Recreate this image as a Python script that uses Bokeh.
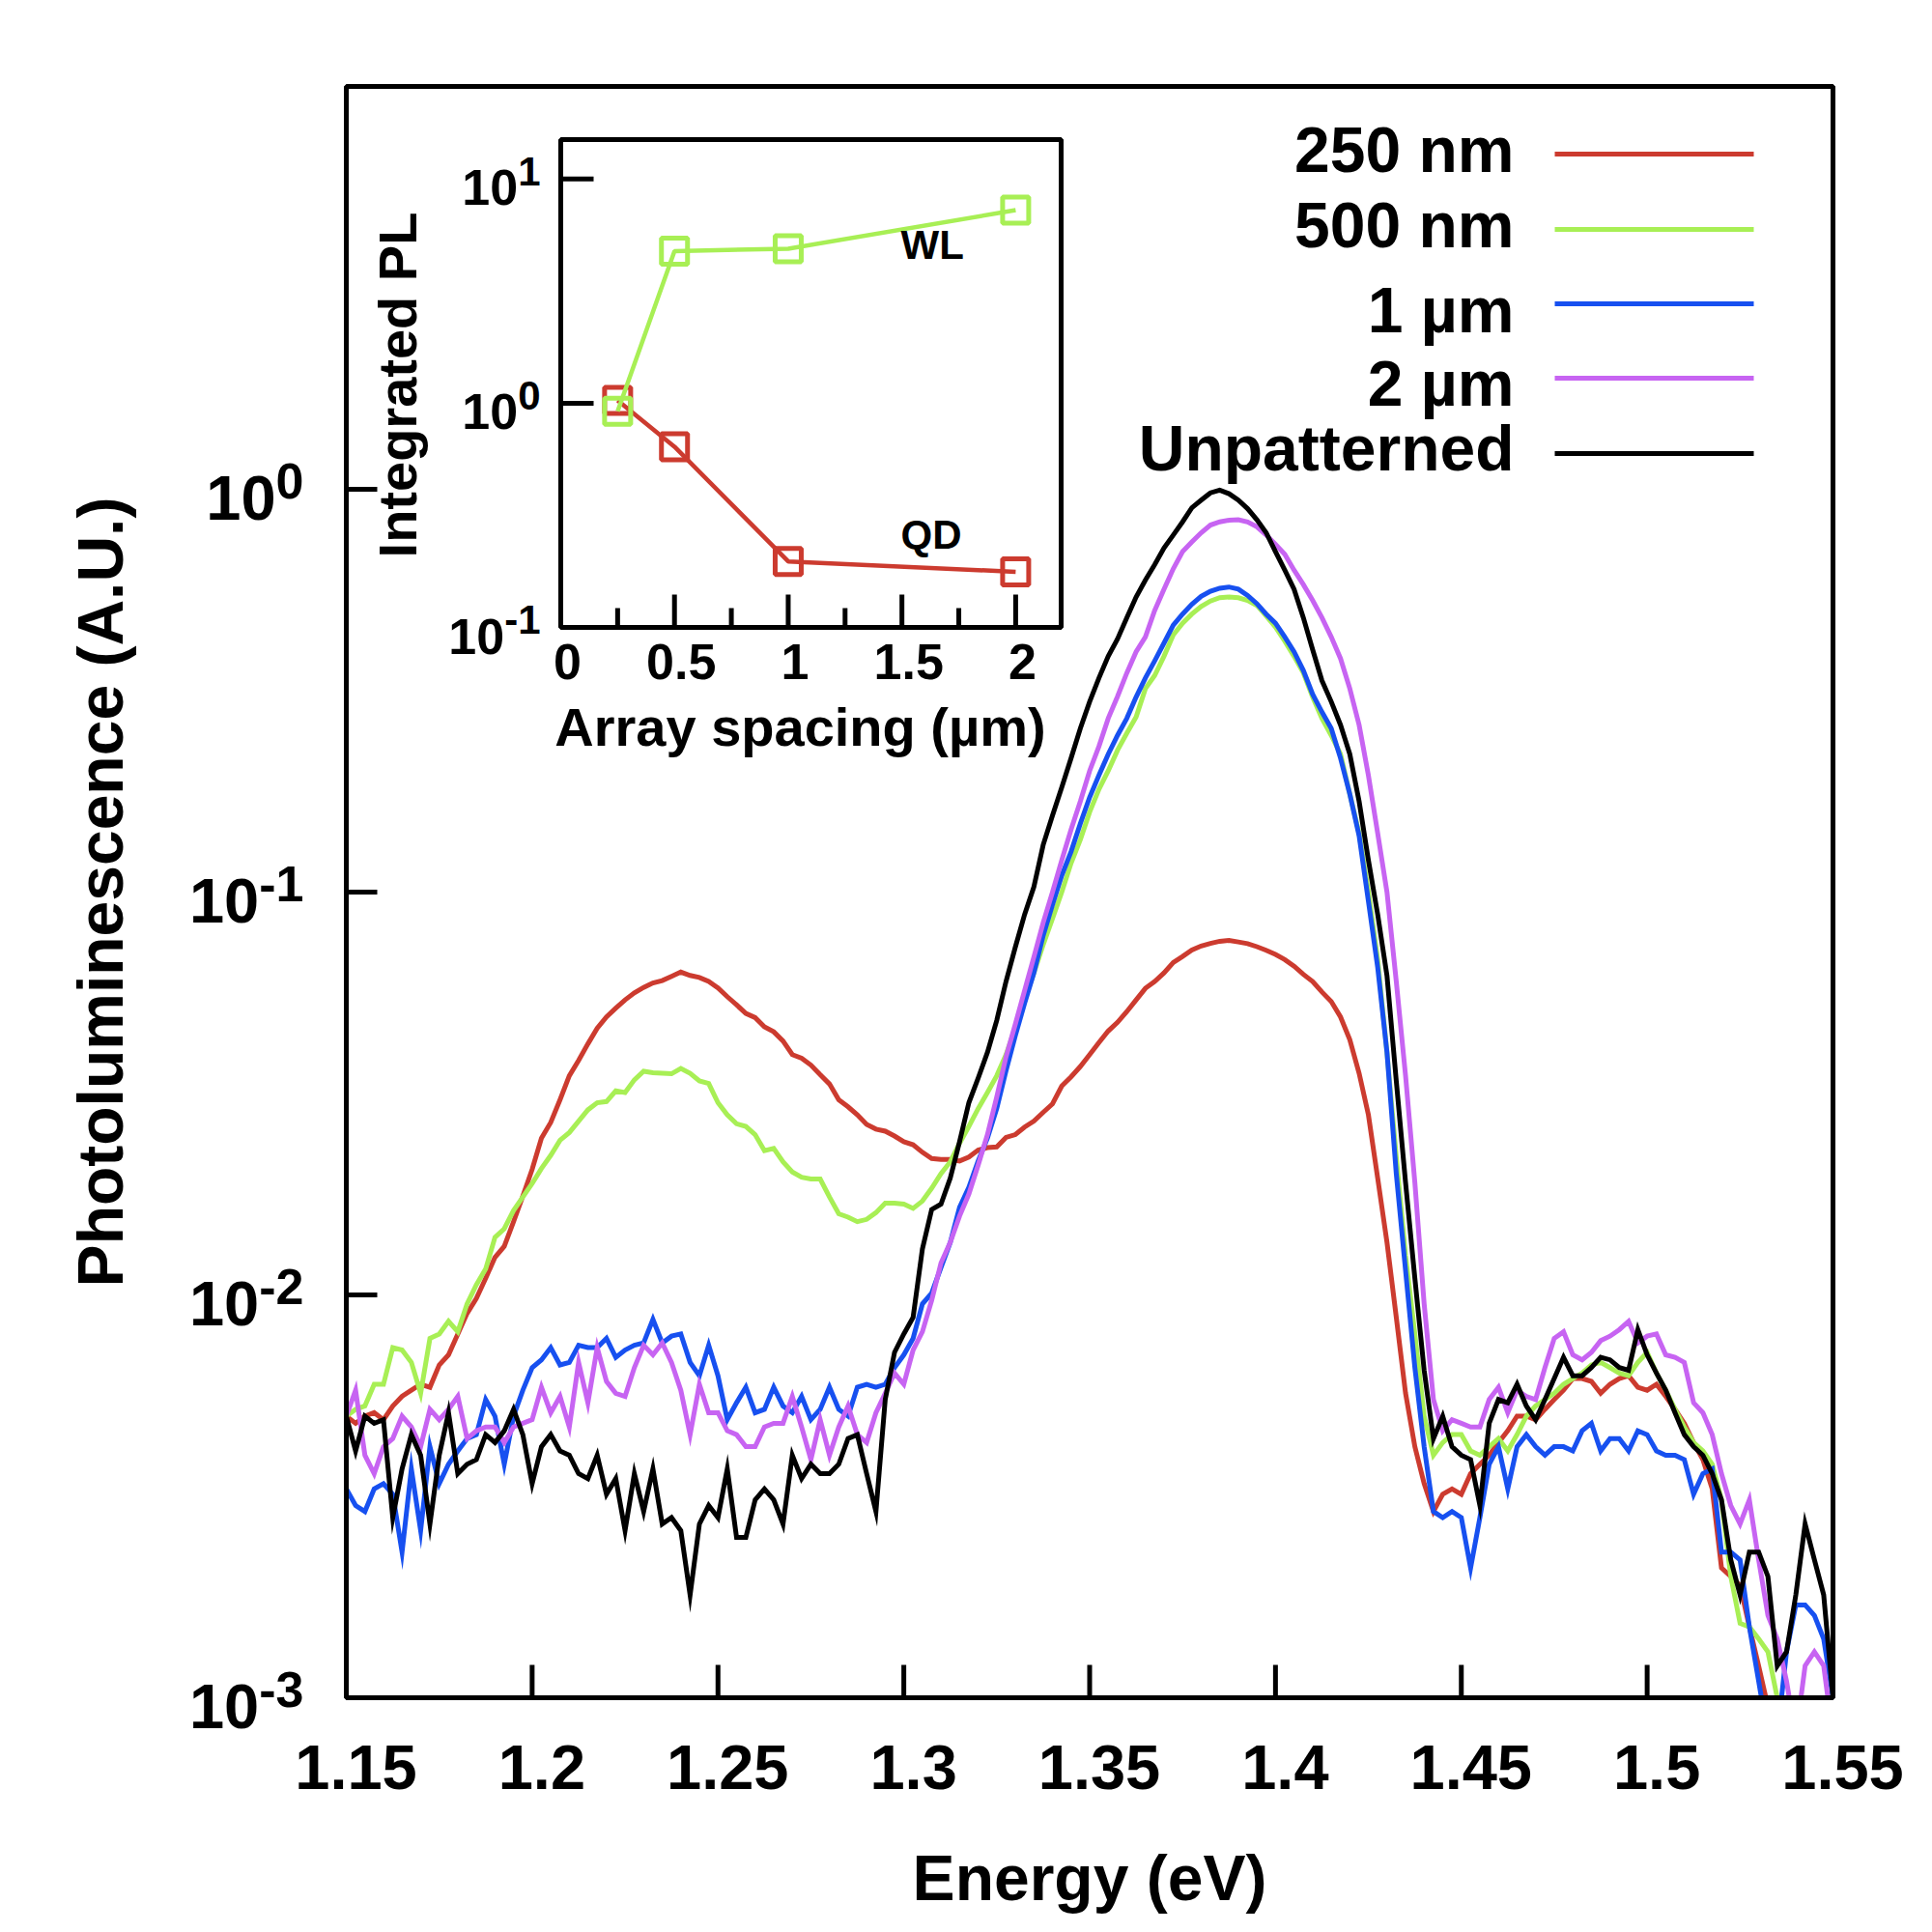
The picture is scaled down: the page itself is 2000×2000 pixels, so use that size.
import math
from bokeh.plotting import figure
from bokeh.models import Range1d, LinearScale, LogScale, Label
from bokeh.embed import file_html
from bokeh.resources import INLINE

# ---------------- data ----------------
energy_eV = [
    1.1500, 1.1525, 1.1550, 1.1575, 1.1600, 1.1625, 1.1650, 1.1675, 1.1700, 1.1725,
    1.1750, 1.1775, 1.1800, 1.1825, 1.1850, 1.1875, 1.1900, 1.1925, 1.1950, 1.1975,
    1.2000, 1.2025, 1.2050, 1.2075, 1.2100, 1.2125, 1.2150, 1.2175, 1.2200, 1.2225,
    1.2250, 1.2275, 1.2300, 1.2325, 1.2350, 1.2375, 1.2400, 1.2425, 1.2450, 1.2475,
    1.2500, 1.2525, 1.2550, 1.2575, 1.2600, 1.2625, 1.2650, 1.2675, 1.2700, 1.2725,
    1.2750, 1.2775, 1.2800, 1.2825, 1.2850, 1.2875, 1.2900, 1.2925, 1.2950, 1.2975,
    1.3000, 1.3025, 1.3050, 1.3075, 1.3100, 1.3125, 1.3150, 1.3175, 1.3200, 1.3225,
    1.3250, 1.3275, 1.3300, 1.3325, 1.3350, 1.3375, 1.3400, 1.3425, 1.3450, 1.3475,
    1.3500, 1.3525, 1.3550, 1.3575, 1.3600, 1.3625, 1.3650, 1.3675, 1.3700, 1.3725,
    1.3750, 1.3775, 1.3800, 1.3825, 1.3850, 1.3875, 1.3900, 1.3925, 1.3950, 1.3975,
    1.4000, 1.4025, 1.4050, 1.4075, 1.4100, 1.4125, 1.4150, 1.4175, 1.4200, 1.4225,
    1.4250, 1.4275, 1.4300, 1.4325, 1.4350, 1.4375, 1.4400, 1.4425, 1.4450, 1.4475,
    1.4500, 1.4525, 1.4550, 1.4575, 1.4600, 1.4625, 1.4650, 1.4675, 1.4700, 1.4725,
    1.4750, 1.4775, 1.4800, 1.4825, 1.4850, 1.4875, 1.4900, 1.4925, 1.4950, 1.4975,
    1.5000, 1.5025, 1.5050, 1.5075, 1.5100, 1.5125, 1.5150, 1.5175, 1.5200, 1.5225,
    1.5250, 1.5275, 1.5300, 1.5325, 1.5350, 1.5375, 1.5400, 1.5425, 1.5450, 1.5475,
    1.5500,
]

pl_250nm = [
    .0050, .0048, .0050, .0051, .0049, .0053, .0056, .0058, .0060, .0059,
    .0067, .0071, .0080, .0090, .0098, .0110, .0124, .0132, .0152, .0176,
    .0205, .0245, .0268, .0305, .0350, .0382, .0420, .0459, .0490, .0515,
    .0540, .0562, .0580, .0595, .0603, .0618, .0633, .0621, .0614, .0600,
    .0578, .0550, .0525, .0500, .0488, .0463, .0450, .0427, .0395, .0387,
    .0372, .0352, .0334, .0305, .0293, .0280, .0265, .0258, .0255, .0248,
    .0240, .0236, .0226, .0218, .0217, .0217, .0215, .0220, .0229, .0232,
    .0233, .0246, .0250, .0261, .0270, .0284, .0298, .0330, .0348, .0369,
    .0395, .0423, .0452, .0475, .0505, .0540, .0577, .0600, .0630, .0669,
    .0692, .0718, .0735, .0746, .0755, .0759, .0752, .0745, .0732, .0717,
    .0700, .0680, .0655, .0625, .0600, .0565, .0535, .0490, .0430, .0355,
    .0280, .0195, .0135, .0088, .0057, .0042, .0034, .0029, .0032, .0033,
    .0032, .0036, .0038, .0040, .0043, .0046, .0050, .0050, .0049, .0052,
    .0055, .0058, .0062, .0062, .0061, .0057, .0060, .0062, .0063, .0059,
    .0058, .0060, .0056, .0052, .0048, .0043, .0039, .0033, .0021, .0020,
    .0019, .0015, .0012, .00095, .0008, .0007, .0007, .0007, .0007, .0007,
    .0007,
]

pl_500nm = [
    .0050, .0052, .0053, .0060, .0060, .0074, .0073, .0068, .0057, .0078,
    .0080, .0086, .0081, .0095, .0106, .0116, .0139, .0146, .0162, .0175,
    .0189, .0206, .0222, .0242, .0253, .0270, .0288, .0300, .0302, .0321,
    .0318, .0342, .0359, .0356, .0355, .0354, .0365, .0355, .0340, .0335,
    .0300, .0280, .0266, .0262, .0250, .0228, .0231, .0214, .0202, .0196,
    .0194, .0194, .0175, .0159, .0156, .0152, .0154, .0160, .0169, .0169,
    .0168, .0164, .0171, .0184, .0200, .0214, .0238, .0262, .0290, .0318,
    .0350, .0395, .0460, .0540, .0630, .0740, .0860, .1000, .1180, .1350,
    .1580, .1800, .2000, .2250, .2480, .2720, .3200, .3450, .3850, .4350,
    .4650, .4900, .5120, .5280, .5380, .5400, .5380, .5300, .5150, .4850,
    .4550, .4200, .3850, .3500, .3050, .2700, .2450, .2200, .1750, .1400,
    .1000, .0680, .0400, .0220, .0125, .0080, .0050, .0040, .0043, .0045,
    .0045, .0041, .0040, .0042, .0044, .0041, .0045, .0050, .0053, .0055,
    .0057, .0060, .0062, .0064, .0067, .0068, .0066, .0064, .0063, .0068,
    .0072, .0064, .0058, .0052, .0047, .0043, .0041, .0038, .0031, .0020,
    .00153, .0015, .0014, .0013, .0010, .0008, .0007, .0007, .0007, .0007,
    .0007,
]

pl_1um = [
    .0033, .0030, .0029, .0033, .0034, .0032, .0023, .0037, .0026, .0042,
    .0034, .0038, .0041, .0044, .0045, .0055, .0050, .0038, .0050, .0058,
    .0066, .0069, .0074, .0067, .0068, .0075, .0074, .0074, .0078, .0070,
    .0073, .0075, .0076, .0087, .0076, .0079, .0080, .0068, .0063, .0075,
    .0063, .0049, .0054, .0059, .0051, .0052, .0059, .0053, .0051, .0056,
    .0049, .0052, .0059, .0052, .0050, .0059, .0060, .0059, .0060, .0066,
    .0071, .0078, .0095, .0101, .0117, .0135, .0165, .0185, .0215, .0245,
    .0290, .0360, .0440, .0530, .0630, .0780, .0930, .1100, .1260, .1480,
    .1720, .1950, .2200, .2450, .2700, .3050, .3400, .3750, .4150, .4600,
    .4900, .5180, .5420, .5580, .5680, .5720, .5650, .5450, .5200, .4900,
    .4650, .4300, .3950, .3550, .3100, .2800, .2550, .2150, .1750, .1380,
    .0950, .0650, .0400, .0200, .0115, .0066, .0042, .0029, .0028, .0029,
    .0028, .0021, .0028, .0038, .0042, .0033, .0042, .0045, .0042, .0040,
    .0042, .0042, .0041, .0046, .0048, .0041, .0044, .0044, .0041, .0046,
    .0045, .0041, .0040, .0040, .0039, .0032, .0036, .0037, .0023, .0023,
    .0022, .0015, .0011, .0008, .0008, .0013, .0017, .0017, .0016, .0014,
    .0010,
]

pl_2um = [
    .0050, .0058, .0040, .0036, .0042, .0044, .0050, .0047, .0042, .0052,
    .0049, .0052, .0056, .0044, .0046, .0047, .0047, .0043, .0047, .0048,
    .0049, .0059, .0051, .0056, .0047, .0068, .0054, .0074, .0061, .0057,
    .0056, .0066, .0075, .0071, .0076, .0068, .0058, .0045, .0060, .0051,
    .0051, .0046, .0045, .0042, .0042, .0047, .0048, .0048, .0056, .0047,
    .0039, .0049, .0040, .0047, .0053, .0045, .0043, .0051, .0057, .0064,
    .0060, .0073, .0081, .0097, .0120, .0135, .0157, .0178, .0210, .0250,
    .0310, .0390, .0470, .0570, .0690, .0840, .1000, .1200, .1430, .1680,
    .2000, .2300, .2700, .3060, .3500, .3950, .4300, .5000, .5650, .6350,
    .7000, .7400, .7800, .8150, .8300, .8380, .8400, .8300, .8070, .7700,
    .7300, .6900, .6300, .5800, .5300, .4800, .4300, .3800, .3200, .2600,
    .1950, .1400, .1000, .0600, .0350, .0190, .0095, .0055, .0046, .0049,
    .0048, .0047, .0047, .0055, .0059, .0051, .0058, .0056, .0055, .0066,
    .0078, .0081, .0071, .0069, .0072, .0077, .0079, .0082, .0086, .0076,
    .0079, .0080, .0071, .0070, .0068, .0054, .0051, .0045, .0036, .0030,
    .0027, .0031, .0022, .0016, .0014, .0011, .0008, .0012, .0013, .0012,
    .0008,
]

pl_unpatterned = [
    .0050, .0041, .0050, .0048, .0049, .0028, .0037, .0045, .0040, .0027,
    .0040, .0051, .0036, .0038, .0039, .0045, .0043, .0046, .0052, .0045,
    .0034, .0042, .0045, .0041, .0040, .0036, .0035, .0040, .0032, .0035,
    .0026, .0036, .0029, .0037, .0027, .0028, .0026, .0018, .0027, .0030,
    .0028, .0037, .0025, .0025, .0031, .0033, .0031, .0027, .0040, .0035,
    .0038, .0036, .0036, .0038, .0044, .0045, .0036, .0029, .0055, .0072,
    .0080, .0088, .0130, .0163, .0168, .0195, .0240, .0300, .0345, .0400,
    .0480, .0600, .0730, .0880, .1030, .1310, .1550, .1820, .2150, .2550,
    .2970, .3400, .3850, .4250, .4800, .5400, .5950, .6500, .7150, .7700,
    .8300, .9000, .9400, .9800, .9950, .9750, .9400, .8950, .8400, .7800,
    .7000, .6300, .5650, .4800, .4000, .3350, .2970, .2600, .2200, .1680,
    .1200, .0880, .0620, .0340, .0190, .0110, .0065, .0044, .0050, .0042,
    .0040, .0039, .0030, .0048, .0055, .0054, .0060, .0053, .0049, .0055,
    .0062, .0070, .0063, .0063, .0066, .0070, .0069, .0066, .0065, .0082,
    .0071, .0064, .0058, .0051, .0045, .0042, .0040, .0036, .0031, .0022,
    .0018, .0023, .0023, .0020, .0012, .0013, .0018, .0027, .0022, .0018,
    .0010,
]

series_names = ["250 nm", "500 nm", "1 µm", "2 µm", "Unpatterned"]
series_values = [pl_250nm, pl_500nm, pl_1um, pl_2um, pl_unpatterned]
series_colors = ["#cc3b2f", "#a8ef55", "#1750f0", "#c764f2", "#000000"]

x_ticks = [1.15, 1.2, 1.25, 1.3, 1.35, 1.4, 1.45, 1.5, 1.55]
x_tick_labels = ["1.15", "1.2", "1.25", "1.3", "1.35", "1.4", "1.45", "1.5", "1.55"]
y_ticks = [1e-3, 1e-2, 1e-1, 1e0]
y_tick_exponents = ["-3", "-2", "-1", "0"]

# inset: integrated PL vs array spacing
inset_spacing_um = [0.25, 0.5, 1.0, 2.0]
inset_wl = [0.92, 4.77, 4.89, 7.27]
inset_qd = [1.03, 0.64, 0.197, 0.177]
inset_x_ticks = [0, 0.5, 1, 1.5, 2]
inset_x_tick_labels = ["0", "0.5", "1", "1.5", "2"]
inset_x_minor_ticks = [0.25, 0.75, 1.25, 1.75]
inset_y_ticks = [0.1, 1, 10]
inset_y_exponents = ["-1", "0", "1"]

# ---------------- layout (page pixels) ----------------
PAGE_W, PAGE_H = 1996, 1996
F_L, F_R, F_T, F_B = 358, 1897, 89, 1757          # main plot box
I_L, I_R, I_T, I_B = 580, 1098, 144, 649          # inset box
X_MIN, X_MAX = 1.15, 1.55
Y_MIN, Y_MAX = 1e-3, 1e1
IX_MIN, IX_MAX = 0.0, 2.2
IY_MIN, IY_MAX = 0.1, 15.0
LOG = math.log10
FONT = "Liberation Sans"


def page_x(e):
    return F_L + (e - X_MIN) / (X_MAX - X_MIN) * (F_R - F_L)


def page_y(v):
    return F_T + (LOG(Y_MAX) - LOG(v)) / (LOG(Y_MAX) - LOG(Y_MIN)) * (F_B - F_T)


def inset_x(s):
    return I_L + (s - IX_MIN) / (IX_MAX - IX_MIN) * (I_R - I_L)


def inset_y(v):
    return I_T + (LOG(IY_MAX) - LOG(v)) / (LOG(IY_MAX) - LOG(IY_MIN)) * (I_B - I_T)


ADV = {c: 0.556 for c in "0123456789"}
ADV["-"] = 0.333


def adv_width(s, size):
    return sum(ADV[c] for c in s) * size


# the Bokeh frame covers the whole page; the data ranges are extended so that
# the visible plot box sits at F_L..F_R / F_T..F_B
x_ppu = (F_R - F_L) / (X_MAX - X_MIN)
y_ppd = (F_B - F_T) / (LOG(Y_MAX) - LOG(Y_MIN))
p = figure(
    frame_width=PAGE_W, frame_height=PAGE_H, min_border=0,
    x_range=Range1d(X_MIN - F_L / x_ppu, X_MAX + (PAGE_W - F_R) / x_ppu),
    y_range=Range1d(10 ** (LOG(Y_MIN) - (PAGE_H - F_B) / y_ppd), 10 ** (LOG(Y_MAX) + F_T / y_ppd)),
    y_axis_type="log", x_axis_location=None, y_axis_location=None,
    output_backend="svg", toolbar_location=None,
    background_fill_color="white", border_fill_color="white",
)
p.y_scale = LogScale()
p.x_scale = LinearScale()
p.outline_line_color = None
p.grid.visible = False

ix_ppu = (I_R - I_L) / (IX_MAX - IX_MIN)
iy_ppd = (I_B - I_T) / (LOG(IY_MAX) - LOG(IY_MIN))
p.extra_x_ranges = {
    "px": Range1d(0, PAGE_W),
    "ix": Range1d(IX_MIN - I_L / ix_ppu, IX_MAX + (PAGE_W - I_R) / ix_ppu),
}
p.extra_y_ranges = {
    "py": Range1d(PAGE_H, 0),
    "iy": Range1d(10 ** (LOG(IY_MIN) - (PAGE_H - I_B) / iy_ppd), 10 ** (LOG(IY_MAX) + I_T / iy_ppd)),
}
p.extra_x_scales = {"px": LinearScale(), "ix": LinearScale()}
p.extra_y_scales = {"py": LinearScale(), "iy": LogScale()}

PX = dict(x_range_name="px", y_range_name="py")
IX = dict(x_range_name="ix", y_range_name="iy")

BASELINE_SHIFT = 0.365   # Bokeh's Label places "alphabetic" text lower by about this * size


def add_text(x, y, text, size, align="left", angle=0.0):
    if angle == 0:
        y = y - BASELINE_SHIFT * size
    else:
        x = x - BASELINE_SHIFT * size
    p.add_layout(Label(
        x=x, y=y, text=text,
        text_font=FONT, text_font_style="bold", text_font_size=f"{size}px",
        text_align=align, text_baseline="alphabetic", text_color="black", angle=angle, **PX,
    ))


# main curves
for vals, color in zip(series_values, series_colors):
    p.line(energy_eV, vals, line_color=color, line_width=5, line_join="miter")

# white margins hide whatever falls outside the plot box
p.quad(left=[0, F_R, 0, 0], right=[F_L, PAGE_W, PAGE_W, PAGE_W],
       top=[0, 0, 0, F_B], bottom=[PAGE_H, PAGE_H, F_T, PAGE_H],
       fill_color="white", line_color=None, **PX)
# plot box
p.quad(left=[F_L], right=[F_R], top=[F_T], bottom=[F_B],
       fill_color=None, line_color="black", line_width=5, **PX)

# main ticks (inward)
mx = [page_x(t) for t in x_ticks]
p.segment(x0=mx, x1=mx, y0=[F_B] * len(mx), y1=[F_B - 34] * len(mx),
          line_color="black", line_width=5, **PX)
my = [page_y(t) for t in y_ticks]
p.segment(x0=[F_L] * len(my), x1=[F_L + 32] * len(my), y0=my, y1=my,
          line_color="black", line_width=5, **PX)

# main tick labels
for t, lab in zip(x_ticks, x_tick_labels):
    add_text(page_x(t) + 10, F_B + 96, lab, 65, "center")
SUP_R = F_L - 44
for t, ex in zip(y_ticks, y_tick_exponents):
    yy = page_y(t)
    add_text(SUP_R, yy + 10, ex, 52, "right")
    add_text(SUP_R - adv_width(ex, 52), yy + 33, "10", 65, "right")

# axis titles
add_text((F_L + F_R) / 2, 1968, "Energy (eV)", 66, "center")
add_text(127.5, (F_T + F_B) / 2, "Photoluminescence (A.U.)", 66, "center", math.pi / 2)

# legend (labels right-aligned, line sample to the right)
legend_line_y = [159, 237, 314, 391, 469]
legend_text_y = [178.6, 256.4, 344.4, 421, 488]
p.segment(x0=[1609] * 5, x1=[1815] * 5, y0=legend_line_y, y1=legend_line_y,
          line_color=series_colors, line_width=5, **PX)
for name, ty in zip(series_names, legend_text_y):
    add_text(1567, ty, name, 66, "right")

# ---------------- inset ----------------
p.quad(left=[IX_MIN], right=[IX_MAX], bottom=[IY_MIN], top=[IY_MAX],
       fill_color="white", line_color="black", line_width=5, **IX)
tx = [inset_x(t) for t in inset_x_ticks[1:]]
p.segment(x0=tx, x1=tx, y0=[I_B] * len(tx), y1=[I_B - 34] * len(tx),
          line_color="black", line_width=5, **PX)
tmx = [inset_x(t) for t in inset_x_minor_ticks]
p.segment(x0=tmx, x1=tmx, y0=[I_B] * len(tmx), y1=[I_B - 20] * len(tmx),
          line_color="black", line_width=5, **PX)
tyy = [inset_y(t) for t in inset_y_ticks[1:]]
p.segment(x0=[I_L] * len(tyy), x1=[I_L + 34] * len(tyy), y0=tyy, y1=tyy,
          line_color="black", line_width=5, **PX)

p.line(inset_spacing_um, inset_qd, line_color=series_colors[0], line_width=4.5, **IX)
p.scatter(inset_spacing_um, inset_qd, marker="square", size=27, fill_color=None,
          line_color=series_colors[0], line_width=5, **IX)
p.line(inset_spacing_um, inset_wl, line_color=series_colors[1], line_width=4.5, **IX)
p.scatter(inset_spacing_um, inset_wl, marker="square", size=27, fill_color=None,
          line_color=series_colors[1], line_width=5, **IX)

for t, lab in zip(inset_x_ticks, inset_x_tick_labels):
    add_text(inset_x(t) + 7, I_B + 54, lab, 52, "center")
ISUP_R = I_L - 21
for t, ex in zip(inset_y_ticks, inset_y_exponents):
    yy = inset_y(t)
    add_text(ISUP_R, yy + 7, ex, 42, "right")
    add_text(ISUP_R - adv_width(ex, 42), yy + 28, "10", 52, "right")
add_text(431, 398, "Integrated PL", 56, "center", math.pi / 2)
add_text(828, 772, "Array spacing (µm)", 56, "center")
add_text(932, 268, "WL", 42, "left")
add_text(932, 568, "QD", 42, "left")

open("out.html", "w").write(file_html(p, INLINE))
